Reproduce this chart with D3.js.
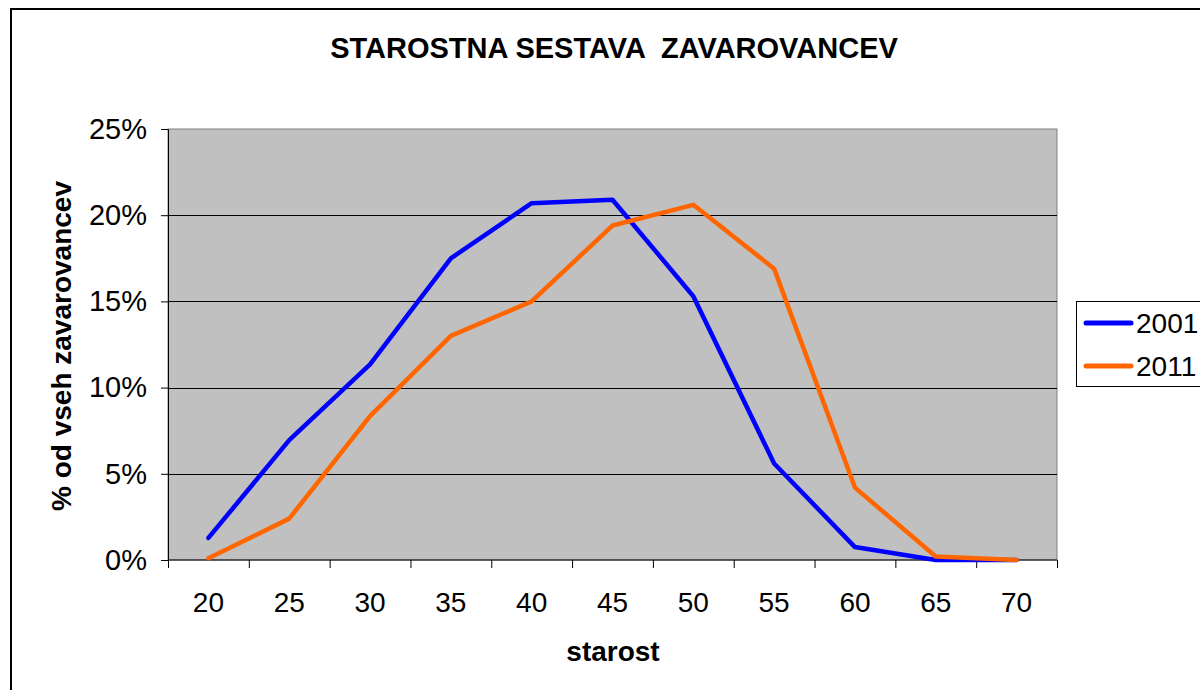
<!DOCTYPE html>
<html>
<head>
<meta charset="utf-8">
<script src="https://cdn.jsdelivr.net/npm/d3@7"></script>
<style>
  body { margin: 0; background: #fff; }
  svg { font-family: "Liberation Sans", Arial, sans-serif; }
</style>
</head>
<body>
<div id="chart"></div>
<script>
// data
var ages = ["20", "25", "30", "35", "40", "45", "50", "55", "60", "65", "70"];
var y2001 = [0.0128, 0.0695, 0.1135, 0.175, 0.207, 0.209, 0.153, 0.056, 0.0075, 0.0, 0.0];
var y2011 = [0.001, 0.024, 0.0835, 0.13, 0.150, 0.194, 0.206, 0.169, 0.042, 0.002, 0.0];
var yTicks = [0, 0.05, 0.10, 0.15, 0.20, 0.25];
var seriesNames = ["2001", "2011"];
var seriesColors = ["#0000ff", "#ff6600"];

var W = 1200, H = 690;
var margin = {top: 129, left: 168, right: 143, bottom: 130};
var width = W - margin.left - margin.right,
    height = H - margin.top - margin.bottom;

var svg = d3.select("#chart").append("svg")
    .attr("width", W)
    .attr("height", H);

// outer frame (cropped on right and bottom)
svg.append("rect")
    .attr("x", 11).attr("y", 9)
    .attr("width", 1220).attr("height", 700)
    .attr("fill", "none")
    .attr("stroke", "#000")
    .attr("stroke-width", 2);

var g = svg.append("g")
    .attr("transform", "translate(" + margin.left + "," + margin.top + ")");

var x = d3.scaleBand()
    .domain(ages)
    .range([0, width]);

var y = d3.scaleLinear()
    .domain([0, 0.25])
    .range([height, 0]);

// plot background
g.append("rect")
    .attr("width", width)
    .attr("height", height)
    .attr("fill", "#c0c0c0")
    .attr("stroke", "#808080")
    .attr("stroke-width", 1);

// gridlines
g.selectAll(".grid")
    .data(yTicks.slice(1, 5))
    .enter()
    .append("line")
    .attr("x1", 0).attr("x2", width)
    .attr("y1", function(d) { return Math.round(y(d)) + 0.5; })
    .attr("y2", function(d) { return Math.round(y(d)) + 0.5; })
    .attr("stroke", "#000")
    .attr("stroke-width", 1);

// y axis
var yAxis = g.append("g")
    .call(d3.axisLeft(y).tickValues(yTicks).tickFormat(d3.format(".0%")).tickSizeOuter(0).tickSize(7).tickPadding(14));
yAxis.select(".domain").attr("stroke", "#000");
yAxis.selectAll("text")
    .style("font-size", "29px")
    .style("font-family", "'Liberation Sans', Arial, sans-serif")
    .attr("fill", "#000");

// x axis: ticks between categories
var xAxis = g.append("g")
    .attr("transform", "translate(0," + height + ")");
xAxis.append("line")
    .attr("x1", 0).attr("x2", width)
    .attr("stroke", "#000");
xAxis.selectAll(".tk")
    .data(ages.concat(["end"]))
    .enter()
    .append("line")
    .attr("x1", function(d, i) { return i * x.bandwidth() + 0.5; })
    .attr("x2", function(d, i) { return i * x.bandwidth() + 0.5; })
    .attr("y1", 0).attr("y2", 8)
    .attr("stroke", "#000");
xAxis.selectAll(".lbl")
    .data(ages)
    .enter()
    .append("text")
    .attr("x", function(d) { return x(d) + x.bandwidth() / 2; })
    .attr("y", 52)
    .attr("text-anchor", "middle")
    .style("font-size", "28px")
    .text(function(d) { return d; });

// lines
var series = [y2001, y2011];
series.forEach(function(vals, k) {
    g.append("path")
        .datum(vals)
        .attr("fill", "none")
        .attr("stroke", seriesColors[k])
        .attr("stroke-width", 4.5)
        .attr("stroke-linejoin", "round")
        .attr("stroke-linecap", "round")
        .attr("d", d3.line()
            .x(function(d, i) { return x(ages[i]) + x.bandwidth() / 2; })
            .y(function(d) { return y(d); }));
});

// title
svg.append("text")
    .attr("x", 614).attr("y", 58)
    .attr("text-anchor", "middle")
    .style("font-size", "29px")
    .style("font-weight", "bold")
    .style("white-space", "pre")
    .text("STAROSTNA SESTAVA  ZAVAROVANCEV");

// axis titles
svg.append("text")
    .attr("x", 613).attr("y", 661)
    .attr("text-anchor", "middle")
    .style("font-size", "28px")
    .style("font-weight", "bold")
    .text("starost");

svg.append("text")
    .attr("transform", "translate(71,346) rotate(-90)")
    .attr("text-anchor", "middle")
    .style("font-size", "28px")
    .style("font-weight", "bold")
    .text("% od vseh zavarovancev");

// legend
var leg = svg.append("g").attr("transform", "translate(1076,301)");
leg.append("rect")
    .attr("x", 0.5).attr("y", 0.5)
    .attr("width", 200).attr("height", 85)
    .attr("fill", "#fff")
    .attr("stroke", "#000");
leg.selectAll(".ln")
    .data(seriesNames)
    .enter()
    .append("line")
    .attr("x1", 10).attr("x2", 55)
    .attr("y1", function(d, i) { return 22 + i * 43; })
    .attr("y2", function(d, i) { return 22 + i * 43; })
    .attr("stroke", function(d, i) { return seriesColors[i]; })
    .attr("stroke-width", 5)
    .attr("stroke-linecap", "round");
leg.selectAll(".lt")
    .data(seriesNames)
    .enter()
    .append("text")
    .attr("x", 60)
    .attr("y", function(d, i) { return 22 + i * 43; })
    .attr("dy", "0.36em")
    .style("font-size", "28px")
    .text(function(d) { return d; });
</script>
</body>
</html>
